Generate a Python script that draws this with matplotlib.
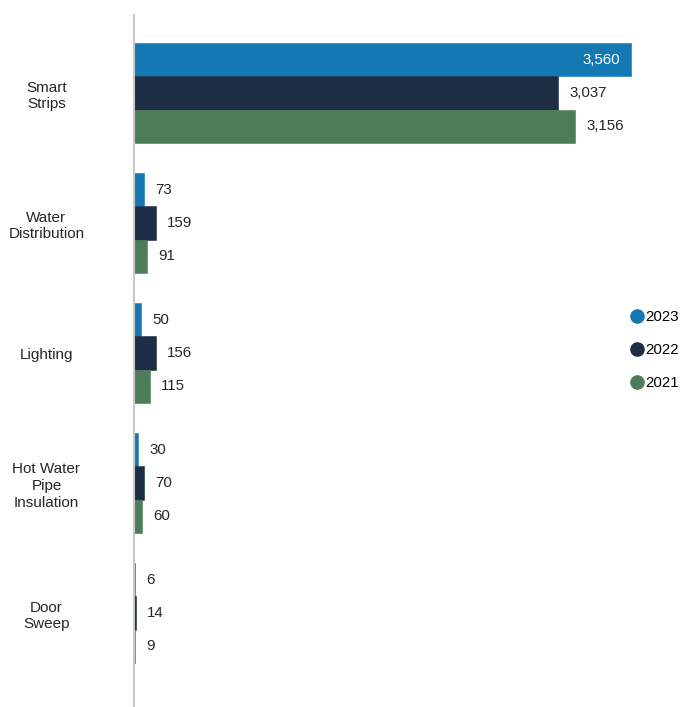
import numpy as np
import matplotlib.pyplot as plt
from matplotlib.lines import Line2D

plt.rcParams['font.family'] = ['Liberation Sans', 'DejaVu Sans']

# datos
categorias = ["Smart\nStrips", "Water\nDistribution", "Lighting",
              "Hot Water\nPipe\nInsulation", "Door\nSweep"]
anios = ["2023", "2022", "2021"]
v2023 = [3560, 73, 50, 30, 6]
v2022 = [3037, 159, 156, 70, 14]
v2021 = [3156, 91, 115, 60, 9]
colores = ["#1479b3", "#1d2d44", "#4d7d58"]

fig = plt.figure(figsize=(6.81, 7.07), dpi=100)
ax = fig.add_axes([134 / 681, 0, 542 / 681, 692 / 707])

y = np.arange(len(categorias))
h = 0.255
for k, (vals, col) in enumerate(zip([v2023, v2022, v2021], colores)):
    pos = y + (k - 1) * h
    ax.barh(pos, vals, height=h, color=col, edgecolor=col, linewidth=0.4)
    for p, v in zip(pos, vals):
        txt = f"{v:,}"
        if v > 3400:
            ax.annotate(txt, (v, p), xytext=(-8, 0), textcoords="offset points",
                        ha="right", va="center", color="white", fontsize=10.8)
        else:
            ax.annotate(txt, (v, p), xytext=(8, 0), textcoords="offset points",
                        ha="left", va="center", color="#262626", fontsize=10.8)

ax.set_xlim(0, 3880)
ax.set_ylim(4.723, -0.6)
ax.set_yticks(y)
ax.set_yticklabels(categorias, fontsize=11, color="#262626", linespacing=1.25)
for lab in ax.get_yticklabels():
    lab.set_ha("center")
    lab.set_multialignment("center")
ax.tick_params(axis="y", length=0, pad=63)
ax.set_xticks([])
for s in ["top", "right", "bottom"]:
    ax.spines[s].set_visible(False)
ax.spines["left"].set_color("#c8c8c8")
ax.spines["left"].set_linewidth(1.5)

handles = [Line2D([], [], marker="o", linestyle="none", markersize=9.5,
                  markerfacecolor=c, markeredgecolor=c) for c in colores]
fig.legend(handles, anios, loc="center left", bbox_to_anchor=(622 / 681, 1 - 350 / 707),
           frameon=False, fontsize=10.8, handletextpad=0.05, labelspacing=1.25,
           handlelength=1.0, borderpad=0)

fig.savefig("out.png", dpi=100)
